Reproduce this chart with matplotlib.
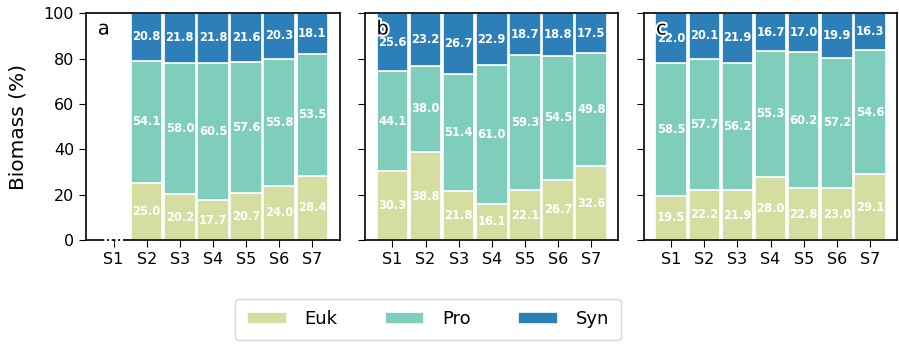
import numpy as np
import matplotlib.pyplot as plt
import matplotlib.patheffects as pe

sites = ['S1', 'S2', 'S3', 'S4', 'S5', 'S6', 'S7']
groups = ['Euk', 'Pro', 'Syn']
colors = ['#d5dea0', '#7fcdbb', '#2c7fb8']

euk_a = [0.0, 25.0, 20.2, 17.7, 20.7, 24.0, 28.4]
pro_a = [0.0, 54.1, 58.0, 60.5, 57.6, 55.8, 53.5]
syn_a = [0.0, 20.8, 21.8, 21.8, 21.6, 20.3, 18.1]

euk_b = [30.3, 38.8, 21.8, 16.1, 22.1, 26.7, 32.6]
pro_b = [44.1, 38.0, 51.4, 61.0, 59.3, 54.5, 49.8]
syn_b = [25.6, 23.2, 26.7, 22.9, 18.7, 18.8, 17.5]

euk_c = [19.5, 22.2, 21.9, 28.0, 22.8, 23.0, 29.1]
pro_c = [58.5, 57.7, 56.2, 55.3, 60.2, 57.2, 54.6]
syn_c = [22.0, 20.1, 21.9, 16.7, 17.0, 19.9, 16.3]

panels = [('a', [euk_a, pro_a, syn_a]),
          ('b', [euk_b, pro_b, syn_b]),
          ('c', [euk_c, pro_c, syn_c])]

fig, axes = plt.subplots(1, 3, figsize=(8.99, 3.45), dpi=100, sharey=True)
fig.subplots_adjust(left=0.0957, right=0.998, top=0.962, bottom=0.304, wspace=0.1)

x = np.arange(len(sites))
for ax, (letter, series) in zip(axes, panels):
    bottom = np.zeros(len(sites))
    for name, vals, col in zip(groups, series, colors):
        vals = np.array(vals)
        ax.bar(x, vals, width=0.95, bottom=bottom, color=col,
               edgecolor='white', linewidth=1.2, label=name)
        for xi, b, v in zip(x, bottom, vals):
            ax.text(xi, b + v / 2, f'{v:.1f}', ha='center', va='center',
                    color='white', fontsize=8.3, fontweight='bold')
        bottom += vals
    ax.set_xticks(x)
    ax.set_xticklabels(sites, fontsize=11.5)
    ax.set_xlim(-0.83, 6.82)
    ax.set_ylim(0, 100)
    ax.set_yticks([0, 20, 40, 60, 80, 100])
    ax.tick_params(labelsize=11.5, length=5)
    for s in ax.spines.values():
        s.set_linewidth(1.2)
    ax.text(0.07, 0.93, letter, transform=ax.transAxes, ha='center', va='center',
            fontsize=14, color='black',
            path_effects=[pe.withStroke(linewidth=3, foreground='white')])

axes[0].set_ylabel('Biomass (%)', fontsize=14.5)
axes[0].yaxis.set_label_coords(-0.23, 0.5)

handles, labels = axes[0].get_legend_handles_labels()
fig.legend(handles, labels, loc='lower center', bbox_to_anchor=(0.476, -0.012),
           ncol=3, fontsize=13, handlelength=2.2, handleheight=0.6,
           handletextpad=1.0, columnspacing=2.6, borderpad=0.65, frameon=True)

fig.savefig('out.png', dpi=100)
